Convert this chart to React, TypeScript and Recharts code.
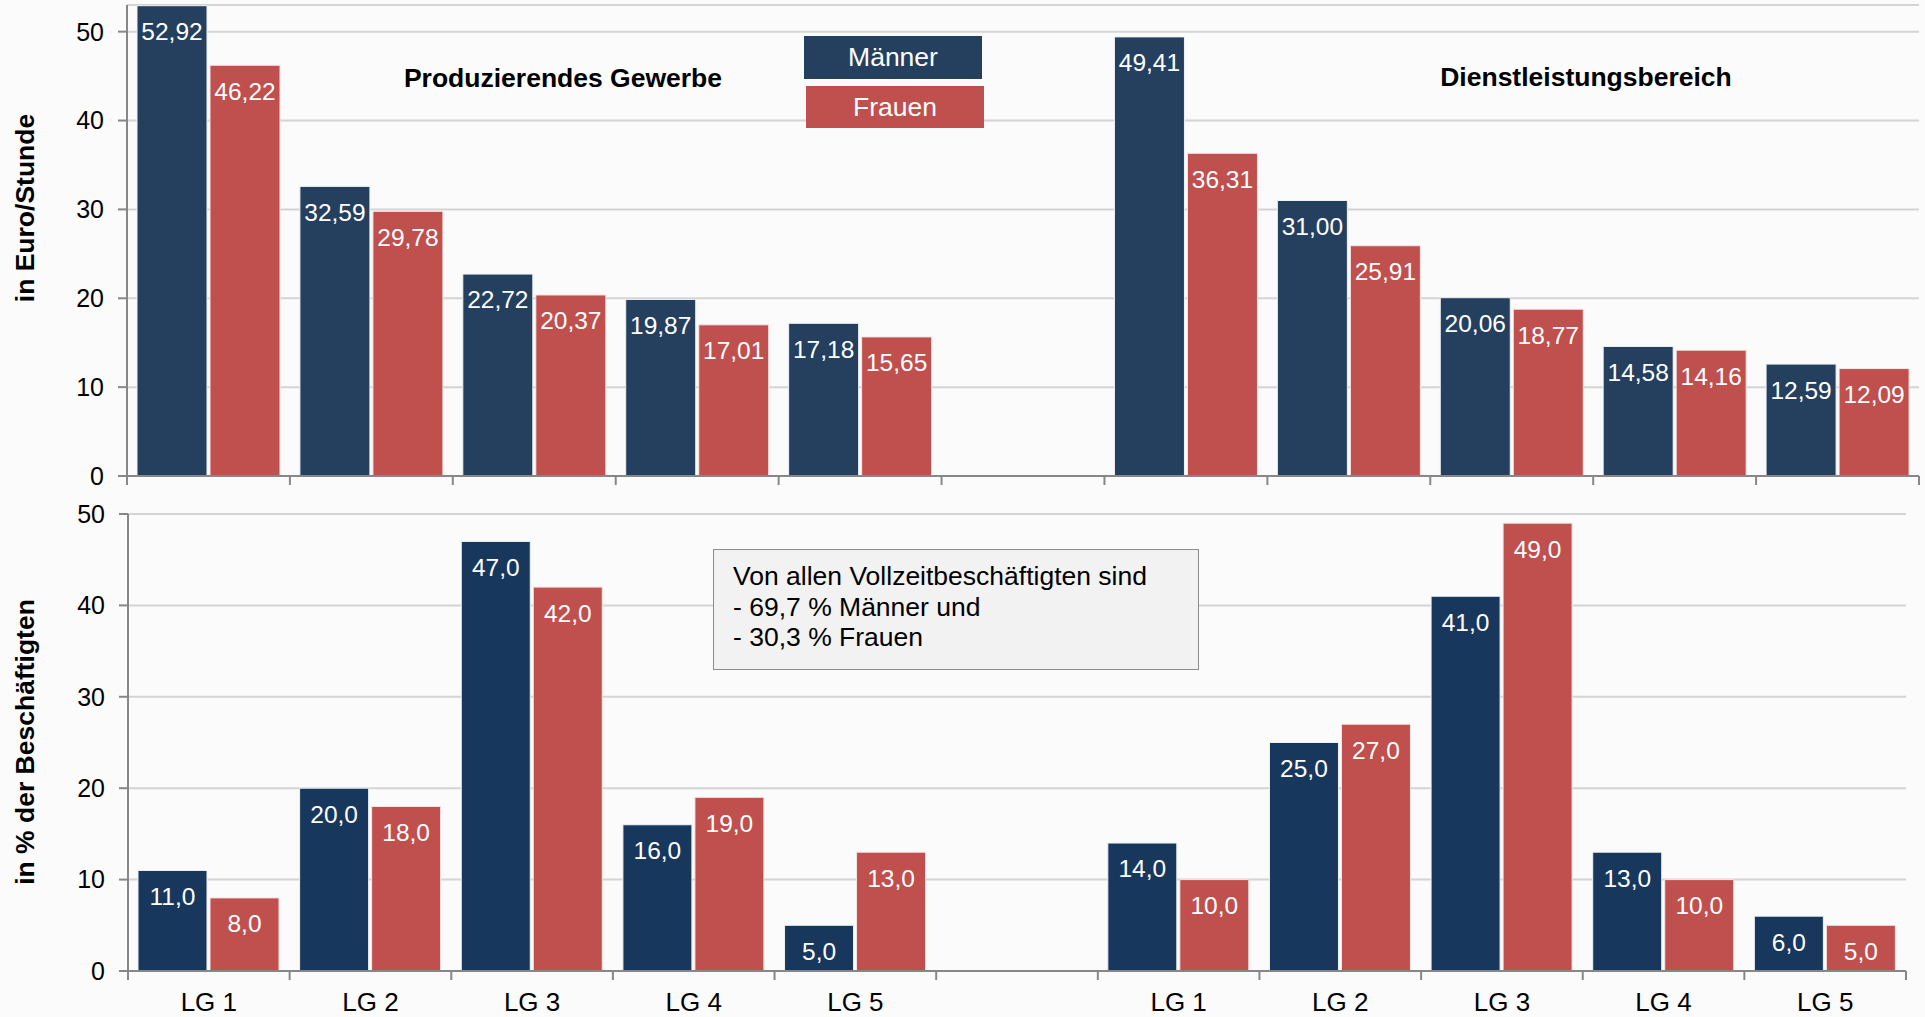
import React from 'react';
import { BarChart, Bar, XAxis, YAxis, CartesianGrid, LabelList } from 'recharts';

// Leistungsgruppen (mittlere Lücke trennt die beiden Bereiche)
const categories = ['LG 1', 'LG 2', 'LG 3', 'LG 4', 'LG 5', '', 'LG 1', 'LG 2', 'LG 3', 'LG 4', 'LG 5'];

// Bruttostundenverdienste in Euro
const lohnMaenner = [52.92, 32.59, 22.72, 19.87, 17.18, null, 49.41, 31.0, 20.06, 14.58, 12.59];
const lohnFrauen = [46.22, 29.78, 20.37, 17.01, 15.65, null, 36.31, 25.91, 18.77, 14.16, 12.09];

// Anteil an den Beschäftigten in %
const anteilMaenner = [11.0, 20.0, 47.0, 16.0, 5.0, null, 14.0, 25.0, 41.0, 13.0, 6.0];
const anteilFrauen = [8.0, 18.0, 42.0, 19.0, 13.0, null, 10.0, 27.0, 49.0, 10.0, 5.0];

const yTicks = [0, 10, 20, 30, 40, 50];

const FONT = '"Liberation Sans", Arial, sans-serif';
const NAVY_TOP = '#253f5f';
const NAVY_BOTTOM = '#18375d';
const RED = '#c0504d';
const AXIS = '#878787';
const GRID = '#d4d4d4';

const lohnData = categories.map((c, i) => ({ cat: c, m: lohnMaenner[i], f: lohnFrauen[i] }));
const anteilData = categories.map((c, i) => ({ cat: c, m: anteilMaenner[i], f: anteilFrauen[i] }));

const fmt = (digits: number) => (v: any) =>
  v == null ? '' : Number(v).toFixed(digits).replace('.', ',');

// Tick: Strich an den Kategoriegrenzen, Beschriftung in der Mitte
const makeTick = (bw: number, showLabel: boolean) => (props: any) => {
  const { x, y, payload, index } = props;
  const left = x - bw / 2;
  return (
    <g>
      <line x1={left} x2={left} y1={y} y2={y + 9} stroke={AXIS} strokeWidth={2} />
      {index === categories.length - 1 && (
        <line x1={x + bw / 2} x2={x + bw / 2} y1={y} y2={y + 9} stroke={AXIS} strokeWidth={2} />
      )}
      {showLabel && (
        <text x={x} y={y + 31} textAnchor="middle" dominantBaseline="central"
          fontSize={26} fill="#000" fontFamily={FONT}>{payload.value}</text>
      )}
    </g>
  );
};

const labelStyle = { fill: '#ffffff', fontSize: 24.5, fontFamily: FONT };
const tickStyle = { fill: '#000', fontSize: 25, fontFamily: FONT };

export default function App() {
  const topW = 1919 - 127;
  const botW = 1906 - 128;
  return (
    <div style={{ position: 'absolute', left: 0, top: 0, width: 1925, height: 1017, background: '#fbfbfb', fontFamily: FONT }}>
      {/* ── Verdienste ── */}
      <div style={{ position: 'absolute', left: 0, top: 0 }}>
        <BarChart width={1925} height={500} data={lohnData}
          margin={{ top: 5, right: 6, left: 0, bottom: 4 }} barCategoryGap={10} barGap={3}>
          <CartesianGrid vertical={false} stroke={GRID} strokeWidth={2} />
          <XAxis dataKey="cat" height={20} axisLine={{ stroke: AXIS, strokeWidth: 2 }}
            tickLine={false} tickSize={0} tickMargin={0} interval={0}
            tick={makeTick(topW / categories.length, false)} />
          <YAxis width={127} domain={[0, 53]} ticks={yTicks} allowDataOverflow
            axisLine={{ stroke: AXIS, strokeWidth: 2 }} tickLine={{ stroke: AXIS, strokeWidth: 2 }}
            tickSize={9} tickMargin={14} tick={tickStyle} />
          <Bar dataKey="m" fill={NAVY_TOP} stroke="#eef2f6" strokeWidth={1} isAnimationActive={false}>
            <LabelList dataKey="m" position="insideTop" offset={17} formatter={fmt(2)} style={labelStyle} />
          </Bar>
          <Bar dataKey="f" fill={RED} stroke="#f6e6e6" strokeWidth={1} isAnimationActive={false}>
            <LabelList dataKey="f" position="insideTop" offset={17} formatter={fmt(2)} style={labelStyle} />
          </Bar>
        </BarChart>
      </div>

      {/* ── Anteile ── */}
      <div style={{ position: 'absolute', left: 0, top: 500 }}>
        <BarChart width={1925} height={517} data={anteilData}
          margin={{ top: 14, right: 19, left: 0, bottom: 0 }} barCategoryGap={10} barGap={3}>
          <CartesianGrid vertical={false} stroke={GRID} strokeWidth={2} />
          <XAxis dataKey="cat" height={46} axisLine={{ stroke: AXIS, strokeWidth: 2 }}
            tickLine={false} tickSize={0} tickMargin={0} interval={0}
            tick={makeTick(botW / categories.length, true)} />
          <YAxis width={128} domain={[0, 50]} ticks={yTicks}
            axisLine={{ stroke: AXIS, strokeWidth: 2 }} tickLine={{ stroke: AXIS, strokeWidth: 2 }}
            tickSize={9} tickMargin={14} tick={tickStyle} />
          <Bar dataKey="m" fill={NAVY_BOTTOM} stroke="#eef2f6" strokeWidth={1} isAnimationActive={false}>
            <LabelList dataKey="m" position="insideTop" offset={17} formatter={fmt(1)} style={labelStyle} />
          </Bar>
          <Bar dataKey="f" fill={RED} stroke="#f6e6e6" strokeWidth={1} isAnimationActive={false}>
            <LabelList dataKey="f" position="insideTop" offset={17} formatter={fmt(1)} style={labelStyle} />
          </Bar>
        </BarChart>
      </div>

      {/* Titel und Achsentitel */}
      <svg width={1925} height={1017} style={{ position: 'absolute', left: 0, top: 0, pointerEvents: 'none' }}>
        <g fontFamily={FONT} fontWeight="bold" fontSize={26.5} fill="#000">
          <text x={563} y={78} textAnchor="middle" dominantBaseline="central">Produzierendes Gewerbe</text>
          <text x={1586} y={77} textAnchor="middle" dominantBaseline="central">Dienstleistungsbereich</text>
          <text transform="translate(25,208) rotate(-90)" textAnchor="middle" dominantBaseline="central">in Euro/Stunde</text>
          <text transform="translate(25,742) rotate(-90)" textAnchor="middle" dominantBaseline="central">in % der Beschäftigten</text>
        </g>
      </svg>

      {/* Legende */}
      <div style={{ position: 'absolute', left: 804, top: 36, width: 178, height: 43, background: NAVY_TOP,
        color: '#fff', fontSize: 26.5, display: 'flex', alignItems: 'center', justifyContent: 'center' }}>Männer</div>
      <div style={{ position: 'absolute', left: 806, top: 86, width: 178, height: 42, background: RED,
        color: '#fff', fontSize: 26.5, display: 'flex', alignItems: 'center', justifyContent: 'center' }}>Frauen</div>

      {/* Hinweisbox */}
      <div style={{ position: 'absolute', left: 713, top: 549, width: 486, height: 121, boxSizing: 'border-box',
        background: '#f2f2f2', border: '1.5px solid #8c8c8c', padding: '11px 0 0 19px', fontSize: 26.5,
        lineHeight: '30.5px', color: '#000' }}>
        <div>Von allen Vollzeitbeschäftigten sind</div>
        <div>- 69,7 % Männer und</div>
        <div>- 30,3 % Frauen</div>
      </div>
    </div>
  );
}
